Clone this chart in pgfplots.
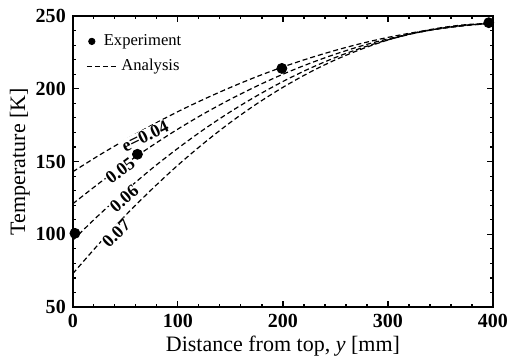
\documentclass[border=0pt]{standalone}
\usepackage{fontspec}
\setmainfont{Liberation Serif}
\usepackage{pgfplots}
\pgfplotsset{compat=1.18}
\usepackage{pgfplotstable}

\pgfplotstableread{
x   e04   e05   e06   e07
0   143.0 121.0 96.0  73.0
25  154.3 135.1 113.4 93.6
50  164.9 148.3 129.7 112.9
75  174.9 160.7 145.0 130.8
100 184.3 172.3 159.1 147.5
125 192.9 183.0 172.2 162.8
150 200.9 192.8 184.2 176.9
175 208.3 201.8 195.1 189.6
200 215.0 210.0 205.0 201.0
225 221.0 217.3 213.8 211.1
250 226.4 223.8 221.5 219.9
275 231.2 229.5 228.1 227.3
300 235.3 234.3 233.6 233.5
325 238.7 238.2 238.1 238.4
350 241.4 241.3 241.5 241.9
375 243.5 243.6 243.8 244.1
400 245.0 245.0 245.0 245.0
}\analysis

\pgfplotstableread{
x    T
2    100.7
61.5 155.0
199  214.0
396  245.4
}\expt

\begin{document}
\begin{tikzpicture}
\begin{axis}[
  scale only axis, width=210pt, height=145.5pt,
  xmin=0, xmax=400, ymin=50, ymax=250,
  xtick={0,100,...,400}, ytick={50,100,...,250},
  minor x tick num=4, minor y tick num=4,
  tick align=inside, xtick pos=both, ytick pos=both,
  major tick length=3pt, minor tick length=1.6pt,
  axis line style={line width=0.9pt},
  tick style={line width=0.6pt, black},
  tick label style={font=\fontsize{10}{12}\selectfont\bfseries},
  /pgf/number format/assume math mode=true,
  xlabel={Distance from top, \textit{y} [mm]},
  ylabel={Temperature [K]},
  label style={font=\fontsize{11}{13}\selectfont},
  xlabel style={at={(axis description cs:0.5,-0.1536)}, anchor=base},
  ylabel style={at={(axis description cs:-0.126,0.5)}, anchor=center},
  legend style={at={(axis description cs:0,1)}, anchor=north west,
    xshift=3.5pt, yshift=-5pt, draw=none, fill=none,
    font=\fontsize{8.3}{10}\selectfont, row sep=1.5pt},
  legend cell align=left,
]
\addplot[only marks, mark=*, mark size=2.5pt, black,
  legend image code/.code={\path[draw=none, fill=none] (0pt,0pt) -- (15pt,0pt); \fill[black] (2.5pt,0pt) circle (1.6pt);}]
  table[x=x, y=T] {\expt};
\addlegendentry{\hspace*{-8.8pt}Experiment}
\addplot[black, line width=0.6pt, dash pattern=on 2.5pt off 1.5pt, smooth,
  legend image code/.code={\draw (0pt,0pt) -- (15pt,0pt);}]
  table[x=x, y=e04] {\analysis};
\addlegendentry{Analysis}
\addplot[black, line width=0.6pt, dash pattern=on 2.5pt off 1.5pt, smooth, forget plot]
  table[x=x, y=e05] {\analysis};
\addplot[black, line width=0.6pt, dash pattern=on 2.5pt off 1.5pt, smooth, forget plot]
  table[x=x, y=e06] {\analysis};
\addplot[black, line width=0.6pt, dash pattern=on 2.5pt off 1.5pt, smooth, forget plot]
  table[x=x, y=e07] {\analysis};
\begin{scope}[every node/.style={fill=white, inner sep=0.2pt, font=\fontsize{9}{11}\selectfont\bfseries}]
\node[rotate=26] at (axis cs:68.8,167.5) {e=0.04};
\node[rotate=37] at (axis cs:45.1,143.7) {0.05};
\node[rotate=41] at (axis cs:48.8,124.4) {0.06};
\node[rotate=45] at (axis cs:41.2,100.7) {0.07};
\end{scope}
\end{axis}
\pgfresetboundingbox
\path ([shift={(-36.4pt,-27.5pt)}]current axis.south west) rectangle ([shift={(8pt,8pt)}]current axis.north east);
\end{tikzpicture}
\end{document}
